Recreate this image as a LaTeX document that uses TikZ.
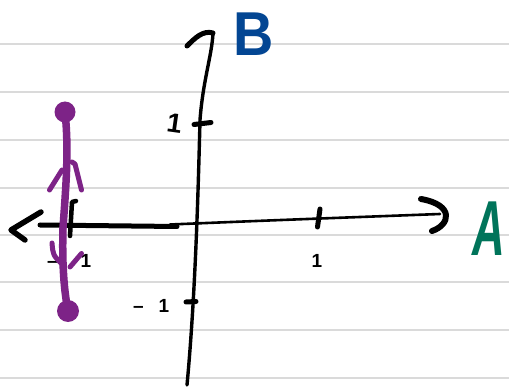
\documentclass[tikz,border=0pt]{standalone}
\usepackage{fontspec}
\setmainfont{Liberation Sans}
\definecolor{rule}{HTML}{DADADA}
\definecolor{pen}{HTML}{000000}
\definecolor{plum}{HTML}{7D2387}
\definecolor{agreen}{HTML}{00745A}
\definecolor{bblue}{HTML}{034693}
\tikzset{
  ruled/.style={draw=rule, line width=2pt},
  ink/.style={draw=pen, line cap=round, line join=round},
  purp/.style={draw=plum, line cap=round, line join=round},
  lbl/.style={inner sep=0pt, text=pen, font=\bfseries\fontsize{19}{19}\selectfont},
  biglbl/.style={inner sep=0pt, text=pen, font=\bfseries\fontsize{27}{27}\selectfont},
}
\begin{document}
\begin{tikzpicture}[x=1pt,y=-1pt]
\useasboundingbox[fill=white] (0,0) rectangle (509,390);
% ruled paper
\foreach \yy in {44.3,92.3,140,187.7,235,282.3,330,377.7}
  \draw[ruled] (0,\yy) -- (509,\yy);
% coordinates
\coordinate (xl) at (40,225);
\coordinate (xm) at (177,226.5);
\coordinate (xr) at (440,214);
\coordinate (yb) at (187,385);
\coordinate (yt) at (213,33);
% horizontal axis
\draw[ink, line width=5pt] (xl) -- (xm);
\draw[ink, line width=2.6pt] (170,224.5) .. controls (280,220) .. (xr);
\draw[ink, line width=5.5pt] (41,212) -- (11,230) -- (25,240);
\draw[ink, line width=6pt] (421,199) .. controls (455,205) and (450,225) .. (432,231);
% vertical axis
\draw[ink, line width=3.4pt] (yb) .. controls (195,300) and (198,200) .. (200,120)
   .. controls (203,80) and (212,55) .. (yt);
\draw[ink, line width=5pt] (187,46) .. controls (195,38) and (203,30) .. (yt);
% ticks
\draw[ink, line width=5pt] (194,124.5) -- (211,122.5);
\draw[ink, line width=5pt] (186,302) -- (196,301.5);
\draw[ink, line width=5pt] (320,209) -- (317.5,227);
\draw[ink, line width=4.5pt] (76,201) -- (72,202) -- (70,236);
% tick labels
\node[biglbl, rotate=-8] (l1y) at (174.5,123) {1};
\node[lbl] (l1x) at (317,261) {1};
\node[lbl] (lm1x) at (69.25,261) {\textendash\hspace{22.9pt}1};
\node[lbl] (lm1y) at (151.25,306) {\textendash\hspace{14.9pt}1};
% purple segment
\coordinate (pt) at (65,112);
\coordinate (pb) at (68,311);
\draw[purp, line width=7.5pt] (pt) .. controls (69,150) and (66,185) .. (63,228)
   .. controls (62,265) and (64,290) .. (pb);
\fill[plum] (pt) circle (10.5);
\fill[plum] (pb) circle (11);
\draw[purp, line width=5pt] (49.5,190) -- (62,170);
\draw[purp, line width=5pt] (72,162) -- (75,164) -- (81.5,190);
\draw[purp, line width=5pt] (52,243) .. controls (53,255) .. (62,264);
\draw[purp, line width=5pt] (81.5,253.5) -- (70,267);
% axis names
\node[inner sep=0pt, text=agreen, font=\bfseries\itshape\fontsize{78}{78}\selectfont, xscale=0.58, anchor=south west] (A) at (472,256) {A};
\node[inner sep=0pt, text=bblue, font=\bfseries\fontsize{62}{62}\selectfont, xscale=0.9, anchor=south west] (B) at (233,56) {B};
\end{tikzpicture}
\end{document}
